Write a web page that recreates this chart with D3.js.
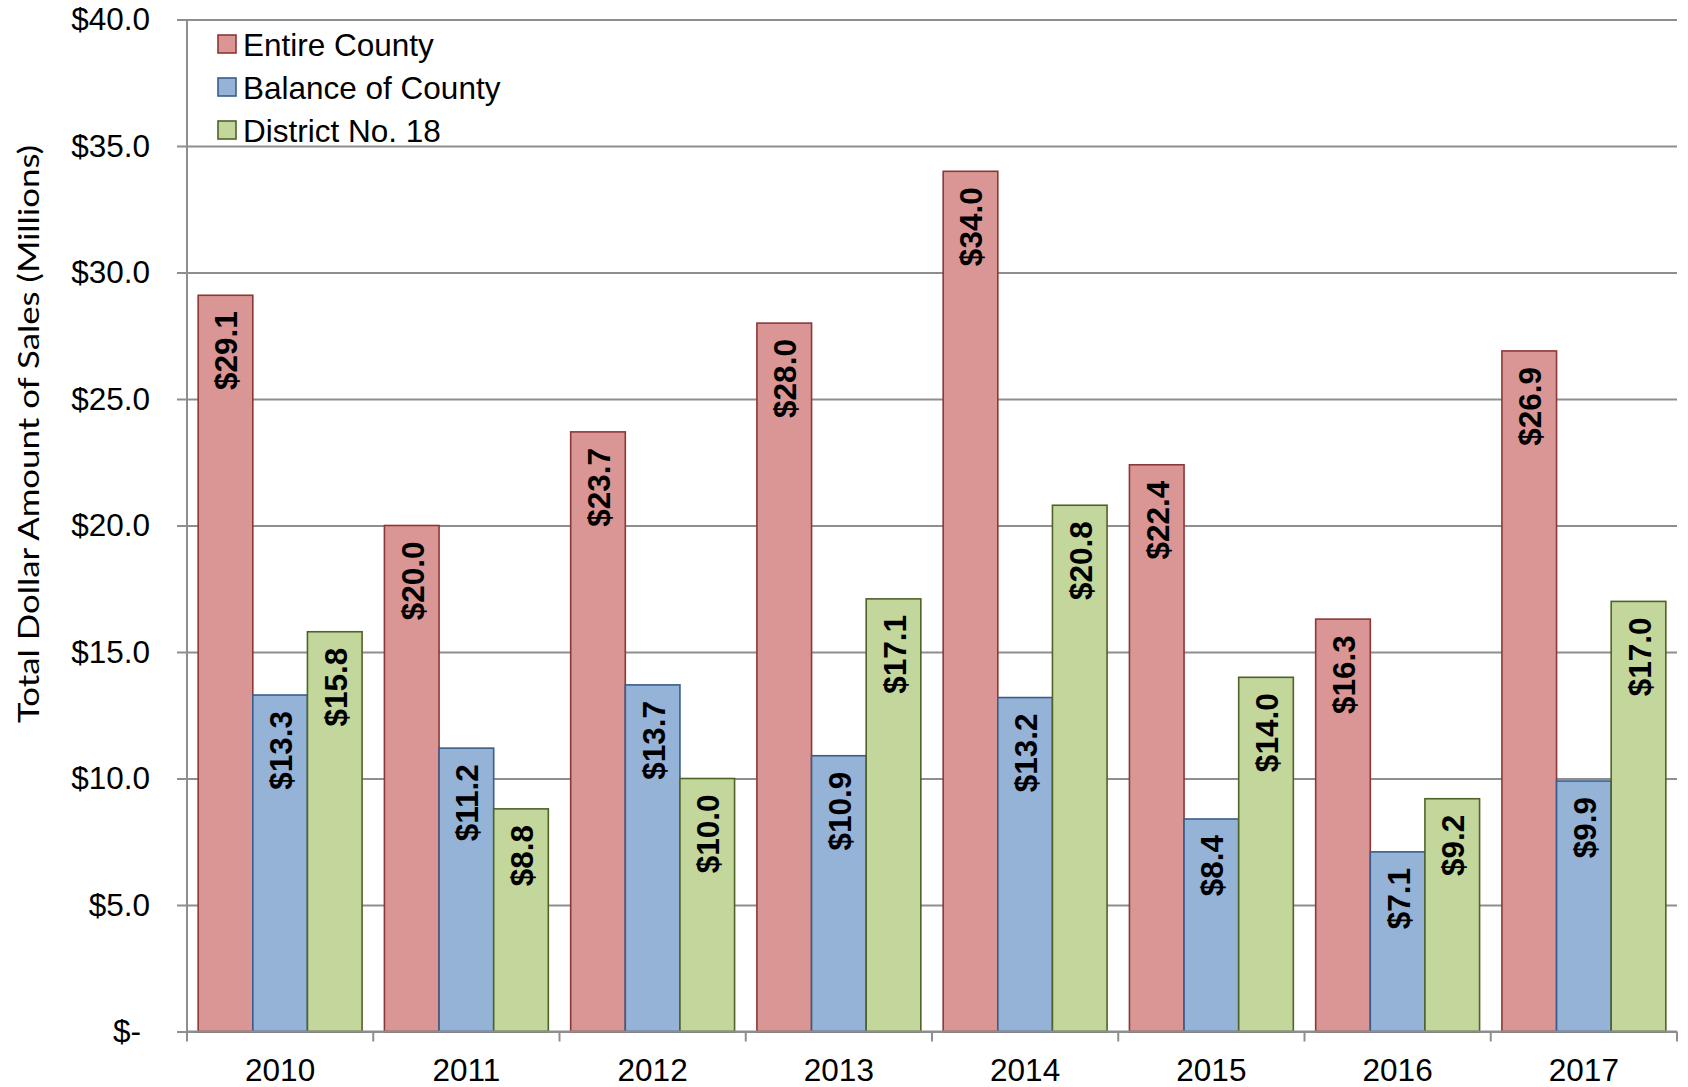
<!DOCTYPE html>
<html>
<head>
<meta charset="utf-8">
<script src="https://cdn.jsdelivr.net/npm/d3@7"></script>
<style>
  body { margin: 0; background: #fff; }
  text { font-family: "Liberation Sans", Arial, sans-serif; }
</style>
</head>
<body>
<div id="bar-chart"></div>
<script>
var years = ["2010", "2011", "2012", "2013", "2014", "2015", "2016", "2017"];
var seriesNames = ["Entire County", "Balance of County", "District No. 18"];
var entireCounty = [29.1, 20.0, 23.7, 28.0, 34.0, 22.4, 16.3, 26.9];
var balanceOfCounty = [13.3, 11.2, 13.7, 10.9, 13.2, 8.4, 7.1, 9.9];
var district18 = [15.8, 8.8, 10.0, 17.1, 20.8, 14.0, 9.2, 17.0];
var yTicks = [0, 5, 10, 15, 20, 25, 30, 35, 40];

var seriesValues = [entireCounty, balanceOfCounty, district18];

var margin = {top: 19.5, right: 11, bottom: 55.5, left: 187},
    width = 1688 - margin.left - margin.right,
    height = 1087 - margin.top - margin.bottom;

var gridColor = "#8e8e8e";

var x0 = d3.scaleBand()
    .domain(years)
    .range([0, width])
    .paddingInner(0.12)
    .paddingOuter(0.06);

var x1 = d3.scaleBand()
    .domain(seriesNames)
    .range([0, x0.bandwidth()]);

var y = d3.scaleLinear()
    .domain([0, 40])
    .range([height, 0]);

var fill = d3.scaleOrdinal()
    .domain(seriesNames)
    .range(["#d99694", "#95b3d7", "#c3d69b"]);

var stroke = d3.scaleOrdinal()
    .domain(seriesNames)
    .range(["#8c3836", "#3a5d8b", "#4f6228"]);

var svg = d3.select("#bar-chart").append("svg")
    .attr("width", width + margin.left + margin.right)
    .attr("height", height + margin.top + margin.bottom)
  .append("g")
    .attr("transform", "translate(" + margin.left + "," + margin.top + ")");

// y axis + gridlines
var yAxis = d3.axisLeft(y)
    .tickValues(yTicks)
    .tickSize(10)
    .tickFormat(function(d) { return d === 0 ? "$-" : "$" + d.toFixed(1); });

var yg = svg.append("g").call(yAxis);
yg.select(".domain").remove();
yg.selectAll(".tick line")
    .attr("x2", width)
    .attr("x1", -10)
    .attr("stroke", gridColor)
    .attr("stroke-width", 2);
yg.selectAll(".tick text")
    .attr("font-size", 31.5)
    .attr("fill", "#000")
    .attr("x", -37)
    .attr("dx", function(d) { return d === 0 ? -9 : 0; });

svg.append("line")
    .attr("x1", 0).attr("x2", 0)
    .attr("y1", 0).attr("y2", height)
    .attr("stroke", gridColor)
    .attr("stroke-width", 2);

// bars
var rows = years.map(function(yr, i) {
  return seriesNames.map(function(s, j) { return {year: yr, series: s, value: seriesValues[j][i]}; });
});

var group = svg.selectAll(".year")
    .data(rows)
  .enter().append("g")
    .attr("class", "year")
    .attr("transform", function(d) { return "translate(" + x0(d[0].year) + ",0)"; });

group.selectAll("rect")
    .data(function(d) { return d; })
  .enter().append("rect")
    .attr("x", function(d) { return x1(d.series); })
    .attr("width", x1.bandwidth())
    .attr("y", function(d) { return y(d.value); })
    .attr("height", function(d) { return height - y(d.value); })
    .attr("fill", function(d) { return fill(d.series); })
    .attr("stroke", function(d) { return stroke(d.series); })
    .attr("stroke-width", 1.6);

group.selectAll(".label")
    .data(function(d) { return d; })
  .enter().append("text")
    .attr("class", "label")
    .attr("transform", function(d) {
      return "translate(" + (x1(d.series) + x1.bandwidth() / 2 + 1) + "," + (y(d.value) + 16) + ") rotate(-90)";
    })
    .attr("text-anchor", "end")
    .attr("dominant-baseline", "central")
    .attr("font-size", 31.5)
    .attr("font-weight", "bold")
    .text(function(d) { return "$" + d.value.toFixed(1); });

// x axis
svg.append("line")
    .attr("x1", 0).attr("x2", width)
    .attr("y1", height).attr("y2", height)
    .attr("stroke", gridColor)
    .attr("stroke-width", 2);

var step = x0.step();
svg.selectAll(".xtick")
    .data(d3.range(years.length + 1))
  .enter().append("line")
    .attr("class", "xtick")
    .attr("x1", function(i) { return i * step; })
    .attr("x2", function(i) { return i * step; })
    .attr("y1", height)
    .attr("y2", height + 10)
    .attr("stroke", gridColor)
    .attr("stroke-width", 2);

svg.selectAll(".xlabel")
    .data(years)
  .enter().append("text")
    .attr("class", "xlabel")
    .attr("x", function(d) { return x0(d) + x0.bandwidth() / 2; })
    .attr("y", height + 49)
    .attr("text-anchor", "middle")
    .attr("font-size", 31.5)
    .text(function(d) { return d; });

// legend
var legend = svg.selectAll(".legend")
    .data(seriesNames)
  .enter().append("g")
    .attr("class", "legend")
    .attr("transform", function(d, i) { return "translate(31," + (24.5 + i * 43) + ")"; });

legend.append("rect")
    .attr("x", 0)
    .attr("y", -9)
    .attr("width", 18)
    .attr("height", 18)
    .attr("fill", function(d) { return fill(d); })
    .attr("stroke", function(d) { return stroke(d); })
    .attr("stroke-width", 1.6);

legend.append("text")
    .attr("x", 25)
    .attr("y", 1)
    .attr("dominant-baseline", "central")
    .attr("font-size", 31.5)
    .text(function(d) { return d; });

// y axis title
d3.select("svg").append("text")
    .attr("transform", "translate(27,434) rotate(-90)")
    .attr("text-anchor", "middle")
    .attr("dominant-baseline", "central")
    .attr("font-size", 29)
    .style("font-family", "Lato, 'Open Sans', sans-serif")
    .attr("textLength", 578)
    .attr("lengthAdjust", "spacingAndGlyphs")
    .text("Total Dollar Amount of Sales (Millions)");
</script>
</body>
</html>
